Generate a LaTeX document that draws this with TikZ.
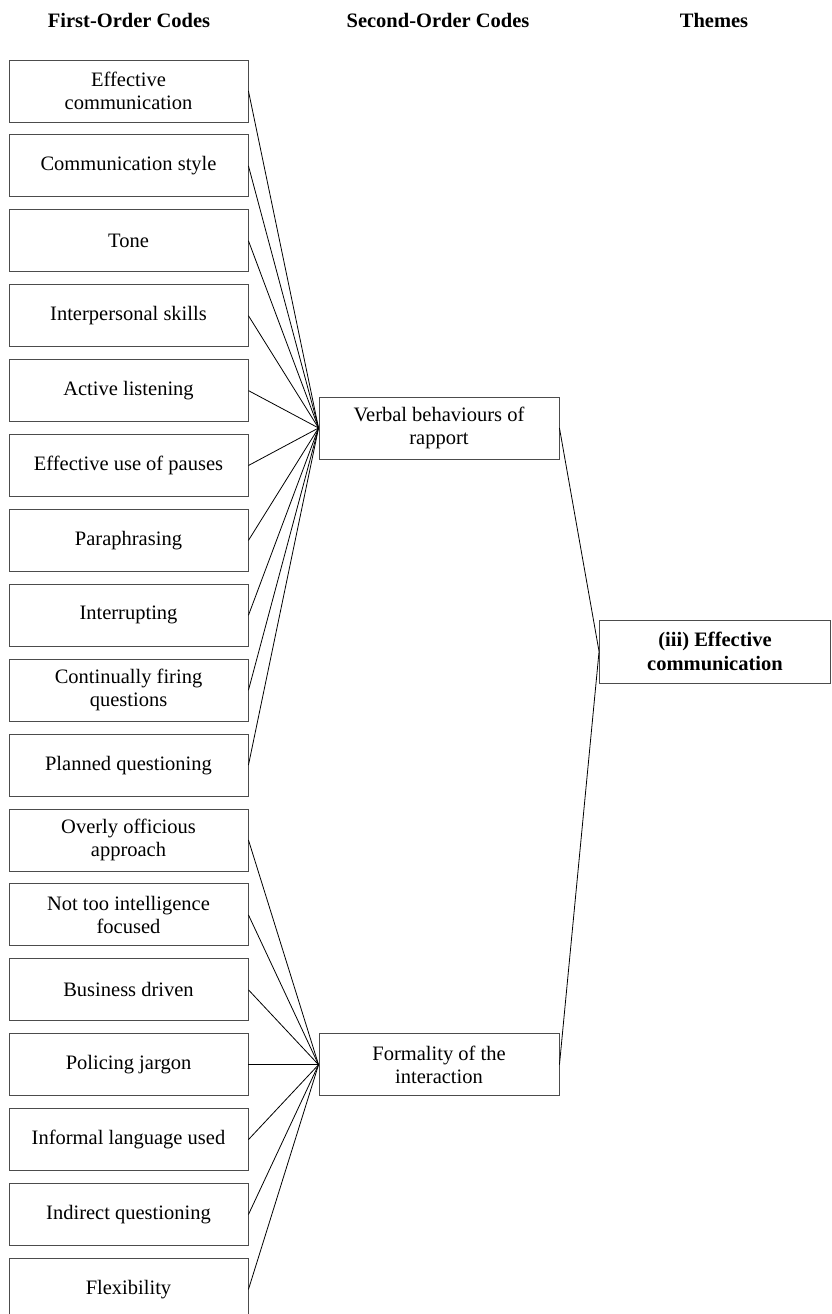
\documentclass[tikz,border=0pt]{standalone}
\usepackage{fontspec}
\setmainfont{Liberation Serif}
\begin{document}
\begin{tikzpicture}[x=1pt,y=-1pt,
  box/.style={draw=black!70, line width=0.9pt, minimum width=239pt, minimum height=62pt, inner sep=0pt, align=center, font=\fontsize{20.5}{23.5}\selectfont},
  midbox/.style={box, minimum width=240pt},
  themebox/.style={box, minimum width=231pt, minimum height=63pt, font=\bfseries\fontsize{20.5}{23.5}\selectfont},
  hdr/.style={font=\bfseries\fontsize{20.5}{23.5}\selectfont, inner sep=0pt},
  link/.style={line width=0.8pt, black}]
\clip (0,0) rectangle (831,1314);

\node[hdr] (h1) at (129,20) {First-Order Codes};
\node[hdr] (h2) at (438,20) {Second-Order Codes};
\node[hdr] (h3) at (714,20) {Themes};

\node[box] (a1)  at (128.5, 91.0) {Effective\\communication};
\node[box] (a2)  at (128.5,165.9) {Communication style};
\node[box] (a3)  at (128.5,240.8) {Tone};
\node[box] (a4)  at (128.5,315.7) {Interpersonal skills};
\node[box] (a5)  at (128.5,390.6) {Active listening};
\node[box] (a6)  at (128.5,465.5) {Effective use of pauses};
\node[box] (a7)  at (128.5,540.4) {Paraphrasing};
\node[box] (a8)  at (128.5,615.3) {Interrupting};
\node[box] (a9)  at (128.5,690.2) {Continually firing\\questions};
\node[box] (a10) at (128.5,765.1) {Planned questioning};
\node[box] (b1)  at (128.5,840.0) {Overly officious\\approach};
\node[box] (b2)  at (128.5,914.9) {Not too intelligence\\focused};
\node[box] (b3)  at (128.5,989.8) {Business driven};
\node[box] (b4)  at (128.5,1064.7) {Policing jargon};
\node[box] (b5)  at (128.5,1139.6) {Informal language used};
\node[box] (b6)  at (128.5,1214.5) {Indirect questioning};
\node[box] (b7)  at (128.5,1289.4) {Flexibility};

\node[midbox] (v) at (439,428) {Verbal behaviours of\\rapport};
\node[midbox] (f) at (439,1064.7) {Formality of the\\interaction};
\node[themebox] (t) at (715,651.5) {(iii) Effective\\communication};

\foreach \n in {a1,a2,a3,a4,a5,a6,a7,a8,a9,a10}
  \draw[link] (\n.east) -- (v.west);
\foreach \n in {b1,b2,b3,b4,b5,b6,b7}
  \draw[link] (\n.east) -- (f.west);
\draw[link] (v.east) -- (t.west);
\draw[link] (f.east) -- (t.west);
\end{tikzpicture}
\end{document}
